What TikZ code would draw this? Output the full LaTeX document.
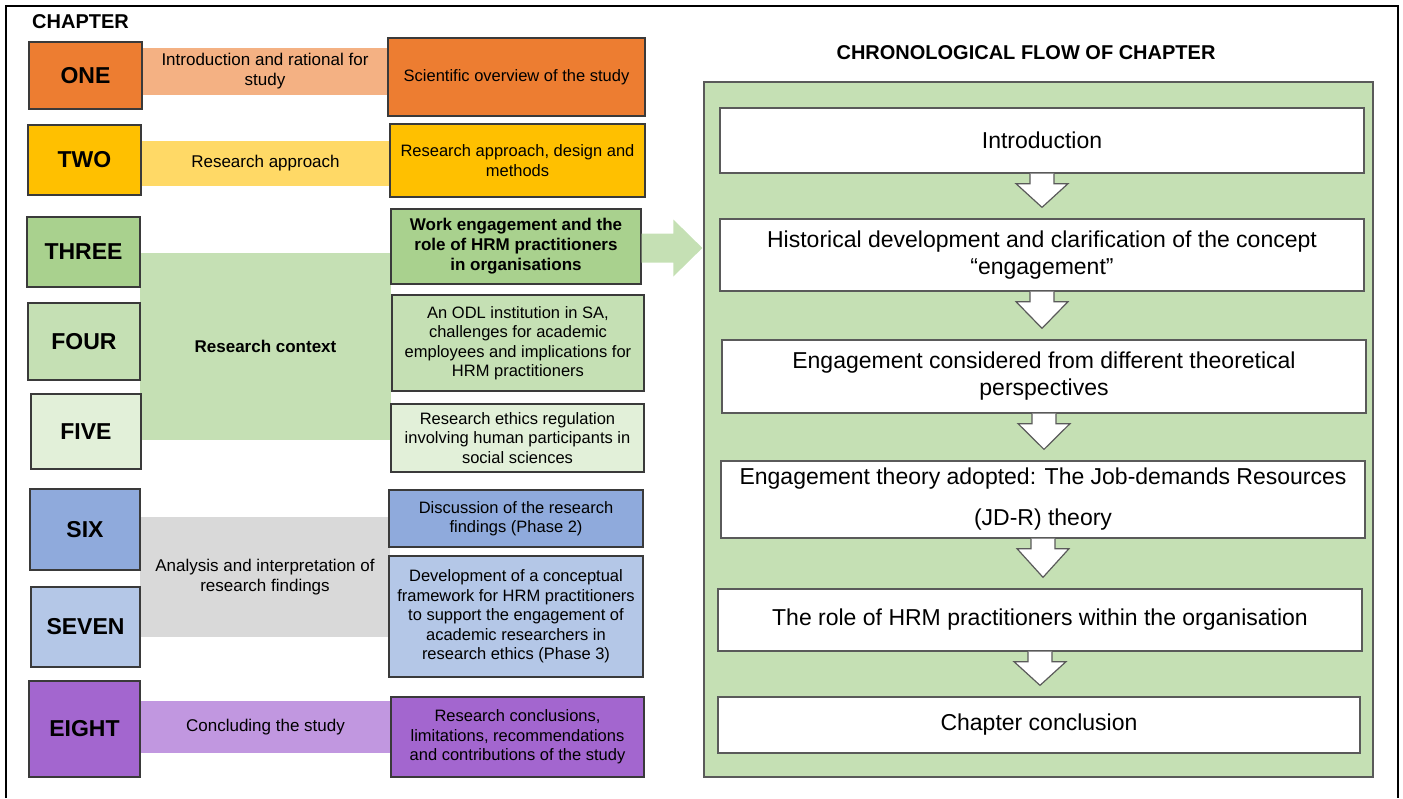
\documentclass[tikz,border=0pt]{standalone}
\usepackage{fontspec}
\setmainfont{Liberation Sans}
\usetikzlibrary{calc}

\definecolor{oneorange}{HTML}{ED7D31}
\definecolor{onelight}{HTML}{F4B183}
\definecolor{twogold}{HTML}{FFC000}
\definecolor{twolight}{HTML}{FFD966}
\definecolor{threegreen}{HTML}{A9D18E}
\definecolor{ctxgreen}{HTML}{C5E0B4}
\definecolor{fivegreen}{HTML}{E2F0D9}
\definecolor{sixblue}{HTML}{8FAADC}
\definecolor{sevenblue}{HTML}{B4C7E7}
\definecolor{anagray}{HTML}{D9D9D9}
\definecolor{eightpurple}{HTML}{A366CF}
\definecolor{eightlight}{HTML}{C197E0}
\definecolor{boxline}{HTML}{3A3A3A}
\definecolor{flowline}{HTML}{5A5A5A}

\newcommand\labfont{\fontsize{23}{26}\selectfont\bfseries}
\newcommand\bandfont{\fontsize{17}{20}\selectfont}
\newcommand\topicfont{\fontsize{16.5}{19.5}\selectfont}
\newcommand\flowfont{\fontsize{23}{27}\selectfont}
\newcommand\headfont{\fontsize{20}{22}\selectfont\bfseries}

\tikzset{
    % box given by its corners: left, top, right, bottom
    span/.style n args={4}{
        at={({(#1+#3)/2},{(#2+#4)/2})},
        minimum width={#3-#1},
        minimum height={#4-#2}},
    chapbox/.style={
        draw=boxline,
        line width=1.3pt,
        fill=#1,
        font=\labfont,
        inner sep=0pt},
    band/.style={
        fill=#1,
        font=\bandfont,
        align=center,
        inner sep=0pt},
    topicbox/.style={
        chapbox=#1,
        font=\topicfont,
        align=center},
    flowbox/.style={
        draw=flowline,
        line width=1.3pt,
        fill=white,
        font=\flowfont,
        align=center,
        inner sep=0pt},
    flowarrow/.style={
        draw=flowline,
        line width=1.2pt,
        fill=white,
        line join=miter},
    bigarrow/.style={fill=ctxgreen}
}

% white block arrow from one flow box down to the next
\newcommand\flowstep[2]{%
    \draw[flowarrow] let \p1=(#1.south), \p2=(#2.north) in
        (\x1-12pt,\y1) -- (\x1-12pt,\y1-10pt) -- (\x1-26pt,\y1-10pt)
        -- (\x1,\y2+11pt) -- (\x1+26pt,\y1-10pt) -- (\x1+12pt,\y1-10pt)
        -- (\x1+12pt,\y1);}

\begin{document}
\begin{tikzpicture}[x=1pt,y=-1pt]
\useasboundingbox (0,0) rectangle (1403,798);

% outer frame
\draw[line width=2pt] (6,798) -- (6,6) -- (1398,6) -- (1398,798);

\node[anchor=west,font=\headfont,inner sep=0pt] (chaptitle) at (32,22) {CHAPTER};

% bands joining chapters to topics
\node[band=onelight,span={142}{48}{388}{95}] (band1) {Introduction and rational for\\study};
\node[band=twolight,span={141}{141}{390}{186}] (band2) {Research approach};
\node[band=ctxgreen,span={140}{253}{391}{440},font=\bandfont\bfseries] (band3) {Research context};
\node[band=anagray,span={140}{517}{390}{637}] (band4) {Analysis and interpretation of\\research findings};
\node[band=eightlight,span={140}{701}{391}{753}] (band5) {Concluding the study};

% chapter boxes
\node[chapbox=oneorange,span={29}{42}{142}{109}] (one) {ONE};
\node[chapbox=twogold,span={28}{125}{141}{195}] (two) {TWO};
\node[chapbox=threegreen,span={27}{217}{140}{287}] (three) {THREE};
\node[chapbox=ctxgreen,span={28}{303}{140}{380}] (four) {FOUR};
\node[chapbox=fivegreen,span={31}{394}{141}{469}] (five) {FIVE};
\node[chapbox=sixblue,span={30}{489}{140}{570}] (six) {SIX};
\node[chapbox=sevenblue,span={31}{587}{140}{667}] (seven) {SEVEN};
\node[chapbox=eightpurple,span={29}{681}{140}{777}] (eight) {EIGHT};

% topic boxes
\node[topicbox=oneorange,span={388}{38}{645}{116}] (topic1) {Scientific overview of the study};
\node[topicbox=twogold,span={390}{124}{645}{197}] (topic2) {Research approach, design and\\methods};
\node[topicbox=threegreen,span={391}{209}{641}{284},font=\bandfont\bfseries] (topic3) {Work engagement and the\\role of HRM practitioners\\in organisations};
\node[topicbox=ctxgreen,span={392}{295}{644}{391}] (topic4) {An ODL institution in SA,\\challenges for academic\\employees and implications for\\HRM practitioners};
\node[topicbox=fivegreen,span={391}{404}{644}{472}] (topic5) {Research ethics regulation\\involving human participants in\\social sciences};
\node[topicbox=sixblue,span={389}{490}{643}{547}] (topic6) {Discussion of the research\\findings (Phase 2)};
\node[topicbox=sevenblue,span={389}{556}{643}{677}] (topic7) {Development of a conceptual\\framework for HRM practitioners\\to support the engagement of\\academic researchers in\\research ethics (Phase 3)};
\node[topicbox=eightpurple,span={391}{697}{644}{777}] (topic8) {Research conclusions,\\limitations, recommendations\\and contributions of the study};

% chronological flow
\node[font=\headfont,inner sep=0pt] (flowtitle) at (1026,53) {CHRONOLOGICAL FLOW OF CHAPTER};
\node[draw=flowline,line width=1.3pt,fill=ctxgreen,span={704}{82}{1373}{777}] (panel) {};

\fill[bigarrow] let \p1=(topic3.east), \p2=(panel.west) in
    (\x1,\y1+13pt) -- (\x2-30pt,\y1+13pt) -- (\x2-30pt,\y1+27pt)
    -- (\x2-1pt,\y1-1.5pt) -- (\x2-30pt,\y1-30pt) -- (\x2-30pt,\y1-16pt)
    -- (\x1,\y1-16pt) -- cycle;

\node[flowbox,span={720}{108}{1364}{173}] (intro) {Introduction};
\node[flowbox,span={720}{219}{1364}{291}] (history) {Historical development and clarification of the concept\\“engagement”};
\node[flowbox,span={722}{340}{1366}{413}] (perspect) {Engagement considered from different theoretical\\perspectives};
\node[flowbox,span={721}{461}{1365}{538}] (jdr) {Engagement theory adopted: The Job-demands Resources\\[14pt](JD-R) theory};
\node[flowbox,span={718}{589}{1362}{651}] (hrmrole) {The role of HRM practitioners within the organisation};
\node[flowbox,span={718}{697}{1360}{753}] (concl) {Chapter conclusion};

\flowstep{intro}{history}
\flowstep{history}{perspect}
\flowstep{perspect}{jdr}
\flowstep{jdr}{hrmrole}
\flowstep{hrmrole}{concl}
\end{tikzpicture}
\end{document}
